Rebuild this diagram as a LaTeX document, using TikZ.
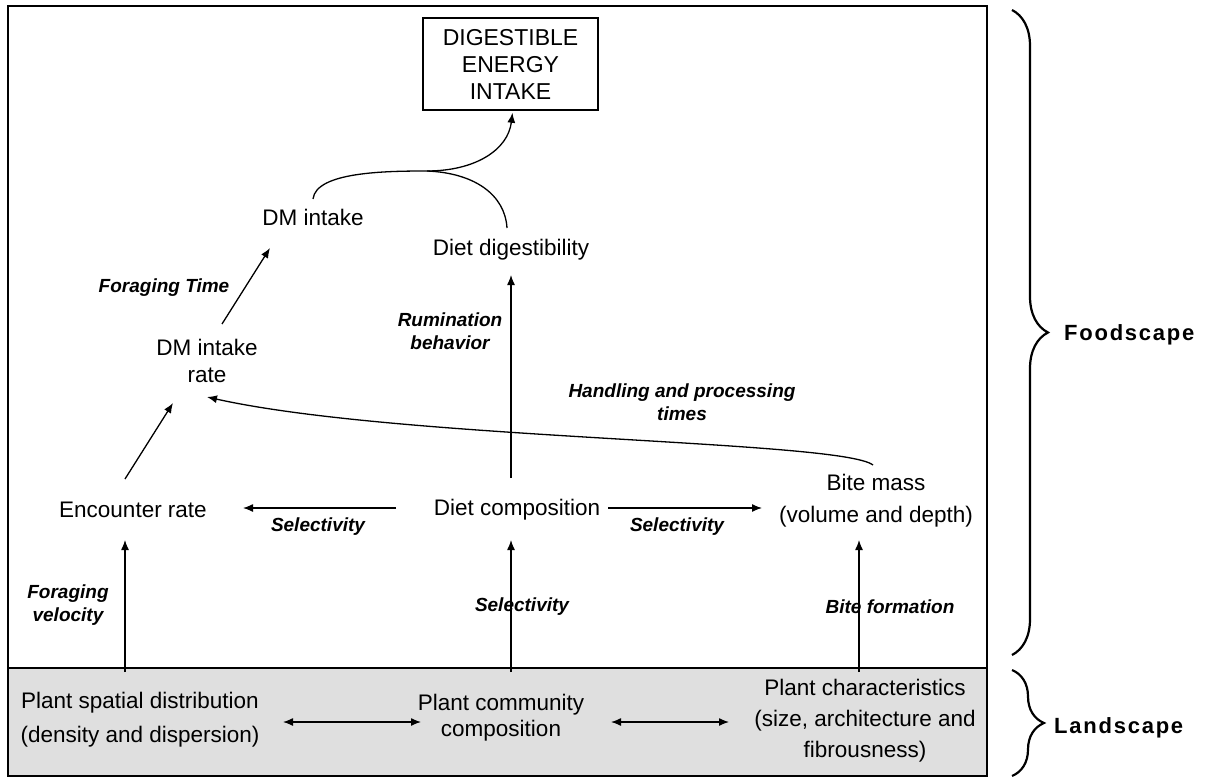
\documentclass[tikz,border=0pt]{standalone}
\usepackage{fontspec}
\setmainfont{Liberation Sans}
\newfontfamily\widefont[LetterSpace=8]{Liberation Sans}
\usetikzlibrary{arrows.meta,decorations.pathreplacing}
\begin{document}
\begin{tikzpicture}[x=1pt,y=-1pt,
  every node/.style={inner sep=0pt,align=center},
  txt/.style={font=\fontsize{22.5}{27}\selectfont},
  lbl/.style={font=\fontsize{19}{23}\selectfont\bfseries\itshape},
  side/.style={font=\fontsize{22}{26}\selectfont\widefont\bfseries},
  conn/.style={line width=1.3pt,-{Latex[length=10pt,width=8pt]}},
  dconn/.style={line width=1.3pt,{Latex[length=10pt,width=8pt]}-{Latex[length=10pt,width=8pt]}},
  plain/.style={line width=1.3pt},
  brc/.style={line width=2.2pt,decorate,decoration={brace,amplitude=#1}}]
\useasboundingbox (0,0) rectangle (1205,778);
\fill[white] (0,0) rectangle (1205,778);
% frames
\fill[gray!25] (8,668) rectangle (987,776);
\draw[line width=1.5pt] (8,6) rectangle (987,776);
\draw[line width=1.5pt] (8,668) -- (987,668);
% braces
\draw[brc=36pt] (1012,10) -- (1012,655);
\draw[brc=32pt] (1012,670) -- (1012,776);
\node[side,anchor=west] (food) at (1064,335) {Foodscape};
\node[side,anchor=west] (land) at (1054,728) {Landscape};
% nodes
\node[draw,line width=1.5pt,minimum width=175pt,minimum height=92pt,
  font=\fontsize{23}{27}\selectfont] (dei) at (510.5,64) {DIGESTIBLE\\ENERGY\\INTAKE};
\node[txt] (dmi) at (313,217) {DM intake};
\node[txt] (dd) at (511,250) {Diet digestibility};
\node[txt] (dmr) at (207,361) {DM intake\\rate};
\node[txt] (enc) at (133,510) {Encounter rate};
\node[txt] (dc) at (517,510) {Diet composition};
\node[txt,font=\fontsize{22.5}{32}\selectfont] (bm) at (876,501) {Bite mass\\(volume and depth)};
\node[txt,font=\fontsize{22.5}{34}\selectfont] (psd) at (140,720) {Plant spatial distribution\\(density and dispersion)};
\node[txt,font=\fontsize{22.5}{26}\selectfont] (pcc) at (501,718) {Plant community\\composition};
\node[txt,font=\fontsize{22.5}{31}\selectfont] (pc) at (865,721) {Plant characteristics\\(size, architecture and\\fibrousness)};
% labels
\node[lbl] (l1) at (164,288) {Foraging Time};
\node[lbl] (l2) at (450,331) {Rumination\\behavior};
\node[lbl] (l3) at (682,402) {Handling and processing\\times};
\node[lbl] (l4) at (318,527) {Selectivity};
\node[lbl] (l5) at (677,527) {Selectivity};
\node[lbl] (l6) at (522,607) {Selectivity};
\node[lbl] (l7) at (68,605) {Foraging\\velocity};
\node[lbl] (l8) at (890,607) {Bite formation};
% connectors
\coordinate (m) at (427,171);
\draw[conn] ([shift={(0,-18)}]dmi.center) .. controls (316,172) and (385,171) .. (m)
   .. controls (475,171) and (508,150) .. ([shift={(2,2)}]dei.south);
\draw[plain] ([shift={(-4,-22)}]dd.center) .. controls (505,195) and (475,173) .. (m);
\draw[conn] ([shift={(15,-37)}]dmr.center) -- ([shift={(-43,31)}]dmi.center);
\draw[conn] ([shift={(-8,-31)}]enc.center) -- ([shift={(-34,42)}]dmr.center);
\draw[conn] ([shift={(-121,-2)}]dc.center) -- ([shift={(110,-2)}]enc.center);
\draw[conn] ([shift={(91,-2)}]dc.center) -- ([shift={(-114,7)}]bm.center);
\draw[conn] ([shift={(-6,-32)}]dc.center) -- ([shift={(0,25)}]dd.center);
\draw[conn] ([shift={(-3,-36)}]bm.center) .. controls (840,440) and (400,440) .. ([shift={(0,36)}]dmr.center);
\draw[conn] ([shift={(-15,-48)}]psd.center) -- ([shift={(-8,30)}]enc.center);
\draw[conn] ([shift={(10,-46)}]pcc.center) -- ([shift={(-6,30)}]dc.center);
\draw[conn] ([shift={(-6,-49)}]pc.center) -- ([shift={(-17,39)}]bm.center);
\draw[dconn] ([shift={(143,2)}]psd.center) -- ([shift={(-80,4)}]pcc.center);
\draw[dconn] ([shift={(110,4)}]pcc.center) -- ([shift={(-136,1)}]pc.center);
\end{tikzpicture}
\end{document}
